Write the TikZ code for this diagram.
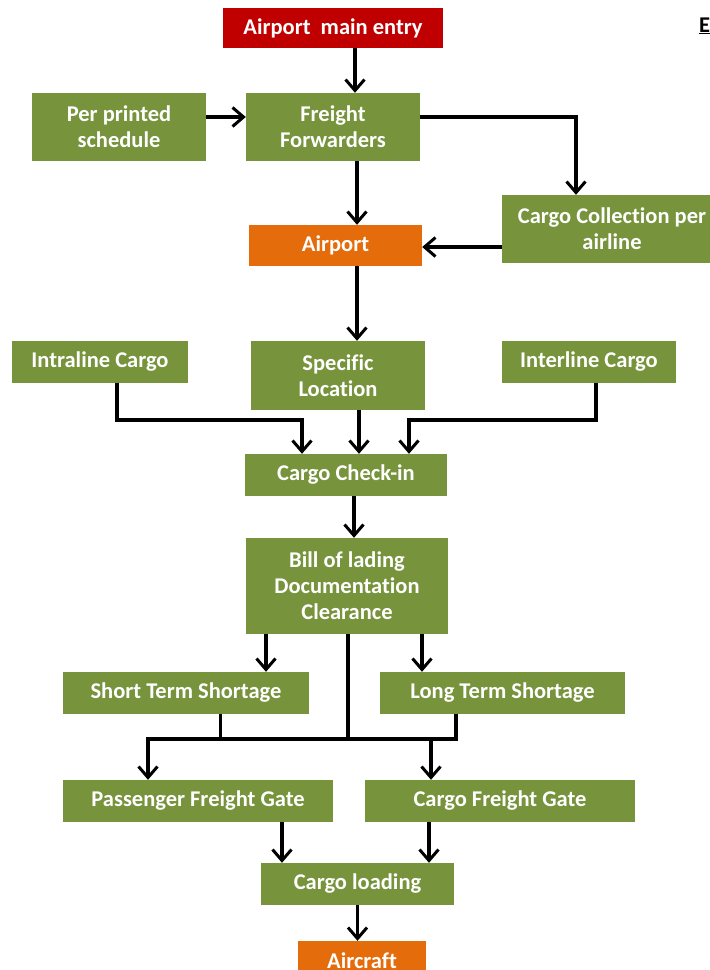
\documentclass[tikz,border=0pt]{standalone}
\usepackage{fontspec}
\setmainfont{Carlito}[Ligatures=NoCommon]
\usetikzlibrary{arrows.meta}

\definecolor{olivebox}{HTML}{77933C}
\definecolor{entryred}{HTML}{C00000}
\definecolor{hubor}{HTML}{E46C0A}

\tikzset{
  box/.style={fill=olivebox, text=white, inner sep=0pt, align=center,
    font=\fontsize{22.5}{26}\selectfont\bfseries},
  flow/.style={line width=3.6pt,
    -{Straight Barb[length=11pt,width=19pt,line width=3pt]}},
  link/.style={line width=3.6pt}
}

\begin{document}
\begin{tikzpicture}[x=1pt,y=-1pt]

    % page frame
    \useasboundingbox (0,0) rectangle (710,970);

    % top of the chain
    \node[box, fill=entryred, minimum width=220pt, minimum height=40pt] (entry) at (333,28) {Airport\ \ main entry};
    \node[box, minimum width=174pt, minimum height=68pt] (sched) at (119,127) {Per printed\\schedule};
    \node[box, minimum width=174pt, minimum height=68pt] (ff) at (333,127) {Freight\\Forwarders};
    \node[box, minimum width=220pt, minimum height=68pt] (coll) at (612,229) {Cargo Collection per\\airline};
    \node[box, fill=hubor, minimum width=173pt, minimum height=41pt] (airport) at (335.5,245.5) {Airport};

    % the three cargo sources
    \node[box, minimum width=176pt, minimum height=42pt] (intra) at (100,362) {Intraline Cargo};
    \node[box, minimum width=174pt, minimum height=69pt] (spec) at (338,375.5) {Specific\\Location};
    \node[box, minimum width=174pt, minimum height=42pt] (inter) at (589,362) {Interline Cargo};

    \node[box, minimum width=202pt, minimum height=42pt] (checkin) at (346,475) {Cargo Check-in};
    \node[box, minimum width=202pt, minimum height=96pt] (bill) at (347,586) {Bill of lading\\Documentation\\Clearance};

    % shortages and gates
    \node[box, minimum width=246pt, minimum height=42pt] (short) at (186,693) {Short Term Shortage};
    \node[box, minimum width=245pt, minimum height=42pt] (long) at (502.5,693) {Long Term Shortage};
    \node[box, minimum width=270pt, minimum height=42pt] (pass) at (198,801) {Passenger Freight Gate};
    \node[box, minimum width=270pt, minimum height=42pt] (cgate) at (500,801) {Cargo Freight Gate};

    \node[box, minimum width=193pt, minimum height=42pt] (loading) at (357.5,884) {Cargo loading};
    \node[box, fill=hubor, minimum width=128pt, minimum height=40pt] (aircraft) at (362,961) {Aircraft};

    % heading letter at the right edge
    \node[anchor=west, inner sep=0pt, font=\fontsize{22.5}{26}\selectfont\bfseries] (head) at (699,26) {\underline{E}};

    % helper rows for the merging lines
    \coordinate (join) at (346,420);
    \coordinate (bus) at (148,739);

    % arrows, top part
    \draw[flow] ([xshift=22pt]entry.south) -- ([xshift=22pt]entry.south |- ff.north);
    \draw[flow] ([yshift=10pt]sched.east) -- ([yshift=10pt]ff.west);
    \draw[flow] ([yshift=10pt]ff.east) -| ([xshift=-36pt]coll.north);
    \draw[flow] ([xshift=24pt]ff.south) -- ([xshift=24pt]ff.south |- airport.north);
    \draw[flow] ([yshift=-18pt]coll.west) -- ([yshift=-18pt]coll.west -| airport.east);
    \draw[flow] ([xshift=21.5pt]airport.south) -- ([xshift=21.5pt]airport.south |- spec.north);

    % into the check-in
    \draw[flow] ([xshift=17pt]intra.south) |- ([xshift=-44pt]checkin.north |- join) -- ([xshift=-44pt]checkin.north);
    \draw[flow] ([xshift=21pt]spec.south) -- ([xshift=21pt]spec.south |- checkin.north);
    \draw[flow] ([xshift=7pt]inter.south) |- ([xshift=63pt]checkin.north |- join) -- ([xshift=63pt]checkin.north);
    \draw[flow] ([xshift=8pt]checkin.south) -- ([xshift=8pt]checkin.south |- bill.north);

    % paperwork to shortages
    \draw[flow] ([xshift=-81pt]bill.south) -- ([xshift=-81pt]bill.south |- short.north);
    \draw[flow] ([xshift=75pt]bill.south) -- ([xshift=75pt]bill.south |- long.north);

    % shared bus down to the gates
    \draw[link] ([xshift=1pt]bill.south) -- ([xshift=1pt]bill.south |- bus);
    \draw[link] ([xshift=34.5pt]short.south) -- ([xshift=34.5pt]short.south |- bus);
    \draw[flow] ([xshift=-46.5pt]long.south) |- (bus) -- (bus |- pass.north);
    \draw[flow] ([xshift=-69pt]cgate.north |- bus) -- ([xshift=-69pt]cgate.north);

    % gates to loading
    \draw[flow] ([xshift=84pt]pass.south) -- ([xshift=84pt]pass.south |- loading.north);
    \draw[flow] ([xshift=-71pt]cgate.south) -- ([xshift=-71pt]cgate.south |- loading.north);
    \draw[flow] (loading.south) -- (loading.south |- aircraft.north);

\end{tikzpicture}
\end{document}
